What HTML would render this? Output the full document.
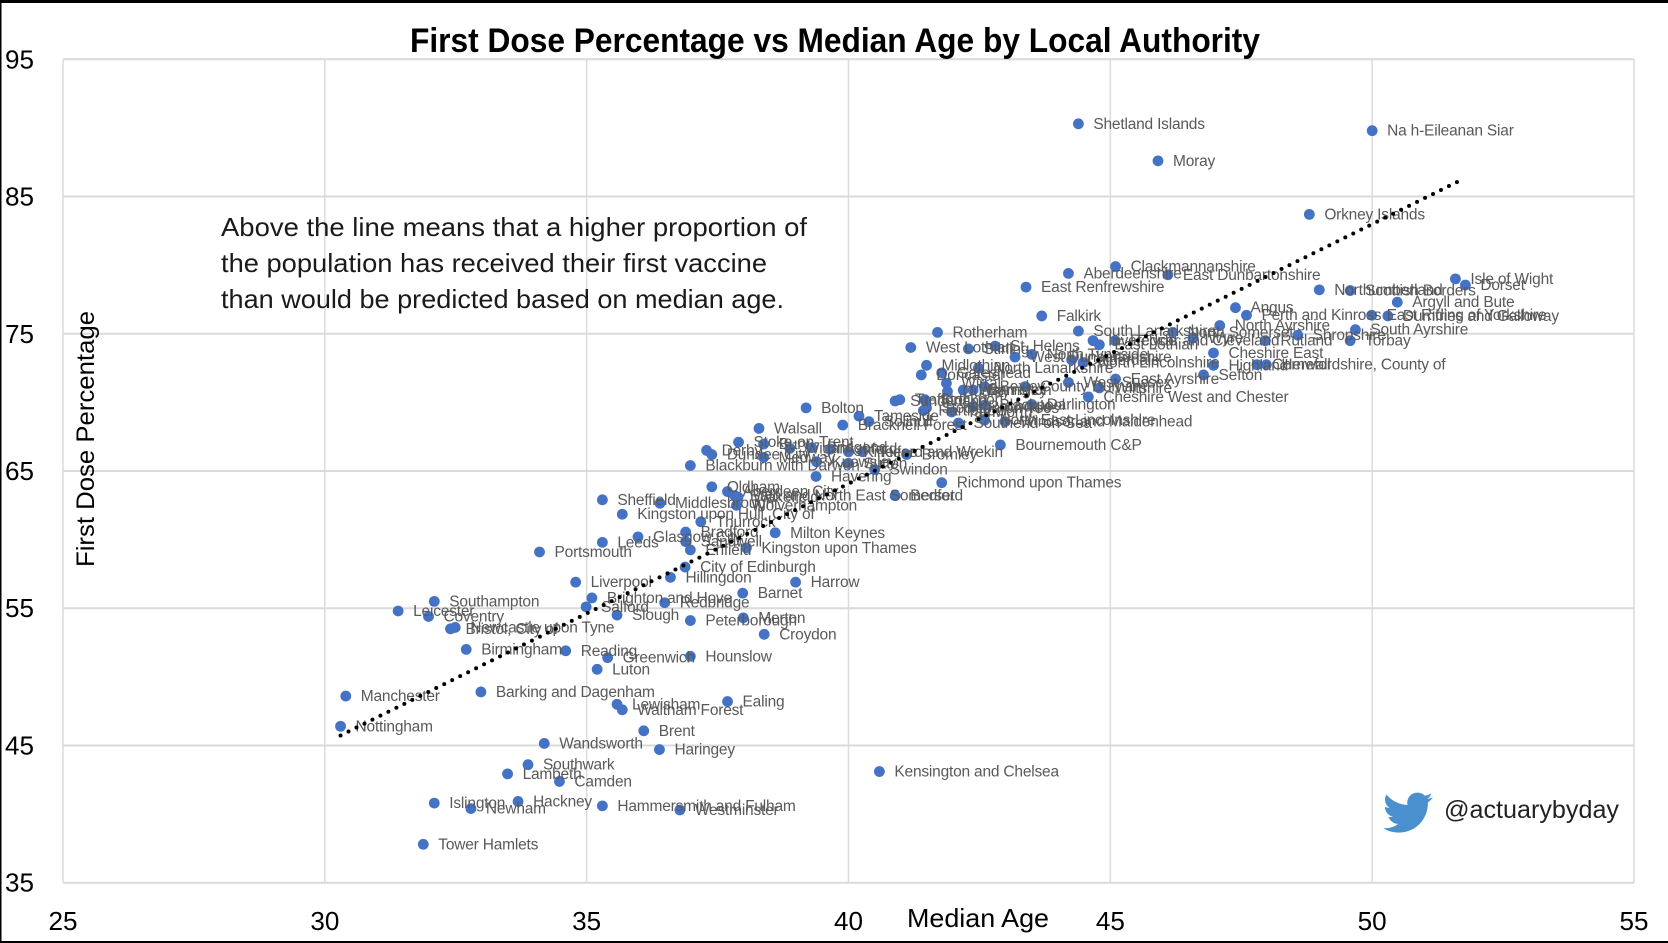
<!DOCTYPE html>
<html lang="en">
<head>
<meta charset="utf-8">
<title>First Dose Percentage vs Median Age by Local Authority</title>
<style>
  html, body { margin: 0; padding: 0; background: #fff; }
  body { width: 1668px; height: 943px; overflow: hidden; }
  svg { display: block; font-family: "Liberation Sans", sans-serif; }
  #plot-layer { filter: blur(0.35px); }
</style>
</head>
<body>
<svg id="chart" xmlns="http://www.w3.org/2000/svg" width="1668" height="943" viewBox="0 0 1668 943">
  <rect x="0" y="0" width="1668" height="943" fill="#ffffff"/>
  <g id="grid-layer"></g>
  <g id="plot-layer">
    <g id="points-layer"></g>
    <g id="labels-layer"></g>
    <g id="trend-layer"></g>
  </g>
  <g id="ticks-layer"></g>

  <text x="410" y="52" font-size="34" font-weight="700" fill="#000" textLength="850" lengthAdjust="spacingAndGlyphs">First Dose Percentage vs Median Age by Local Authority</text>
  <text x="221" y="236" font-size="26" fill="#1a1a1a" textLength="586" lengthAdjust="spacingAndGlyphs">Above the line means that a higher proportion of</text>
  <text x="221" y="272" font-size="26" fill="#1a1a1a" textLength="546" lengthAdjust="spacingAndGlyphs">the population has received their first vaccine</text>
  <text x="221" y="308" font-size="26" fill="#1a1a1a" textLength="563" lengthAdjust="spacingAndGlyphs">than would be predicted based on median age.</text>
  <text x="907" y="927" font-size="26" fill="#000" textLength="142" lengthAdjust="spacingAndGlyphs">Median Age</text>
  <text transform="translate(94 567) rotate(-90)" font-size="25" fill="#000" textLength="256" lengthAdjust="spacingAndGlyphs">First Dose Percentage</text>

  <path fill="#4a90ce" transform="translate(1383 788) scale(2.08 2.05)" d="M23.953 4.57a10 10 0 01-2.825.775 4.958 4.958 0 002.163-2.723c-.951.555-2.005.959-3.127 1.184a4.92 4.92 0 00-8.384 4.482C7.69 8.095 4.067 6.13 1.64 3.162a4.822 4.822 0 00-.666 2.475c0 1.71.87 3.213 2.188 4.096a4.904 4.904 0 01-2.228-.616v.06a4.923 4.923 0 003.946 4.827 4.996 4.996 0 01-2.212.085 4.936 4.936 0 004.604 3.417 9.867 9.867 0 01-6.102 2.105c-.39 0-.779-.023-1.17-.067a13.995 13.995 0 007.557 2.209c9.053 0 13.998-7.496 13.998-13.985 0-.21 0-.42-.015-.63A9.935 9.935 0 0024 4.59z"/>
  <text x="1444" y="818" font-size="25" fill="#222" textLength="175" lengthAdjust="spacingAndGlyphs">@actuarybyday</text>

  <rect x="0" y="0" width="1668" height="3" fill="#000"/>
  <rect x="0" y="0" width="1.5" height="943" fill="#000"/>
  <rect x="0" y="941" width="1668" height="2" fill="#000"/>
</svg>

<script>
const xTicks = [25, 30, 35, 40, 45, 50, 55];
const yTicks = [35, 45, 55, 65, 75, 85, 95];

const places = [
  "Shetland Islands","Na h-Eileanan Siar","Moray","Orkney Islands","Clackmannanshire","Aberdeenshire","East Dunbartonshire","East Renfrewshire",
  "Northumberland","Scottish Borders","Isle of Wight","Dorset","Argyll and Bute","Angus","Perth and Kinross","East Riding of Yorkshire",
  "Dumfries and Galloway","Falkirk","North Ayrshire","South Ayrshire","Shropshire","Torbay","Rutland","South Lanarkshire",
  "North Somerset","Wyre","Inverclyde","East Lothian","Redcar and Cleveland","Cheshire East","Highland","Sefton",
  "Cornwall","Herefordshire, County of","Rotherham","West Lothian","Stirling","St. Helens","West Dunbartonshire","North Tyneside",
  "Midlothian","Doncaster","Gateshead","North Lanarkshire","Wirral","Dudley","Warrington","Barnsley",
  "Bexley","County Durham","Calderdale","North Lincolnshire","West Sussex","East Ayrshire","Wiltshire","Cheshire West and Chester",
  "Sunderland","Trafford","Stockport","Hartlepool","Stockton-on-Tees","Tamworth","Rochdale","Blackpool",
  "Darlington","Windsor and Maidenhead","Southend-on-Sea","North East Lincolnshire","Bolton","Bracknell Forest","Tameside","Solihull",
  "Bournemouth C&P","Bromley","Telford and Wrekin","Kirklees","Walsall","Stoke-on-Trent","Derby","Dundee City",
  "Bury","Medway","Blackburn with Darwen","Wigan","Bridgend","Ashford","Knowsley","Sutton",
  "Swindon","Havering","Richmond upon Thames","Bedford","Oldham","Aberdeen City","Bath and North East Somerset","Wakefield",
  "Wolverhampton","Middlesbrough","Sheffield","Kingston upon Hull, City of","Thurrock","Milton Keynes","Bradford","Sandwell",
  "Enfield","Glasgow City","Leeds","Kingston upon Thames","City of Edinburgh","Hillingdon","Harrow","Barnet",
  "Portsmouth","Liverpool","Brighton and Hove","Redbridge","Salford","Slough","Peterborough","Merton",
  "Croydon","Southampton","Leicester","Coventry","Bristol, City of","Newcastle upon Tyne","Birmingham","Reading",
  "Greenwich","Hounslow","Luton","Manchester","Barking and Dagenham","Lewisham","Waltham Forest","Ealing",
  "Nottingham","Brent","Wandsworth","Haringey","Southwark","Lambeth","Camden","Islington",
  "Newham","Hackney","Hammersmith and Fulham","Westminster","Tower Hamlets","Kensington and Chelsea"
];

const medianAge = [
  44.39,50.0,45.91,48.8,45.1,44.2,46.1,43.39,
  48.99,49.58,51.59,51.78,50.48,47.39,47.6,49.99,
  50.3,43.69,47.09,49.68,48.58,49.58,47.96,44.39,
  46.19,46.58,44.67,44.79,45.09,46.97,46.97,46.78,
  47.8,47.98,41.7,41.19,42.29,42.8,43.18,43.5,
  41.49,41.39,41.78,42.48,41.87,41.89,42.19,42.38,
  42.6,43.37,44.26,44.48,44.2,45.1,44.79,44.58,
  40.89,40.98,41.46,41.43,41.49,41.97,42.38,42.6,
  43.5,42.99,42.1,42.6,39.19,39.89,40.2,40.39,
  42.9,41.11,40.27,40.0,38.29,37.9,37.29,37.39,
  38.38,38.38,36.98,38.88,39.3,39.65,39.39,40.0,
  40.5,39.38,41.78,40.89,37.39,37.69,37.83,37.89,
  37.86,36.4,35.3,35.68,37.18,38.6,36.89,36.89,
  36.98,35.98,35.3,38.05,36.88,36.6,38.99,37.98,
  34.1,34.79,35.1,36.49,34.99,35.58,36.98,37.99,
  38.39,32.09,31.4,31.98,32.4,32.49,32.7,34.6,
  35.4,36.98,35.2,30.4,32.98,35.58,35.68,37.69,
  30.3,36.09,34.19,36.39,33.88,33.49,34.48,32.09,
  32.79,33.69,35.3,36.78,31.88,40.59
];

const firstDose = [
  90.3,89.8,87.6,83.7,79.9,79.4,79.3,78.4,
  78.2,78.15,79.0,78.55,77.3,76.9,76.35,76.35,
  76.3,76.3,75.6,75.3,74.9,74.5,74.5,75.2,
  75.1,74.7,74.5,74.2,74.5,73.6,72.7,72.0,
  72.75,72.75,75.1,74.0,73.9,74.1,73.3,73.5,
  72.7,72.0,72.15,72.5,71.4,70.8,70.9,70.9,
  71.15,71.15,73.1,72.9,71.45,71.7,71.05,70.4,
  70.1,70.2,70.2,69.4,69.6,69.3,69.7,69.8,
  69.85,68.6,68.5,68.7,69.6,68.35,69.0,68.6,
  66.9,66.2,66.4,66.4,68.1,67.1,66.5,66.2,
  66.96,66.0,65.4,66.65,66.7,66.6,65.67,65.55,
  65.1,64.6,64.15,63.2,63.85,63.5,63.2,63.1,
  62.5,62.65,62.9,61.85,61.3,60.5,60.55,59.85,
  59.25,60.2,59.8,59.4,58.0,57.25,56.9,56.1,
  59.1,56.9,55.75,55.4,55.1,54.5,54.1,54.3,
  53.1,55.5,54.8,54.4,53.5,53.6,52.0,51.9,
  51.4,51.5,50.55,48.6,48.9,48.0,47.6,48.2,
  46.4,46.07,45.15,44.7,43.6,42.93,42.38,40.8,
  40.4,40.92,40.6,40.3,37.8,43.1
];

const trendAge = [30.3, 51.66];
const trendDose = [45.73, 86.13];

const SVG_NS = "http://www.w3.org/2000/svg";
const plotLeft = 63, plotRight = 1634, plotTop = 59.3, plotBottom = 882.7;
const xMin = 25, xMax = 55, yMin = 35, yMax = 95;

function xScale(v) { return plotLeft + (v - xMin) / (xMax - xMin) * (plotRight - plotLeft); }
function yScale(v) { return plotBottom - (v - yMin) / (yMax - yMin) * (plotBottom - plotTop); }
function slug(s) { return s.toLowerCase().replace(/[^a-z0-9]+/g, "-").replace(/^-|-$/g, ""); }

const gridLayer = document.getElementById("grid-layer");
const ticksLayer = document.getElementById("ticks-layer");
const pointsLayer = document.getElementById("points-layer");
const labelsLayer = document.getElementById("labels-layer");
const trendLayer = document.getElementById("trend-layer");

xTicks.forEach(function (t) {
  const px = xScale(t);
  const line = document.createElementNS(SVG_NS, "line");
  line.setAttribute("x1", px);
  line.setAttribute("x2", px);
  line.setAttribute("y1", plotTop);
  line.setAttribute("y2", plotBottom);
  line.setAttribute("stroke", "#dcdcdc");
  line.setAttribute("stroke-width", "1.5");
  
  
  gridLayer.appendChild(line);

  const label = document.createElementNS(SVG_NS, "text");
  label.setAttribute("x", px);
  label.setAttribute("y", 930);
  label.setAttribute("text-anchor", "middle");
  label.setAttribute("font-size", "26");
  label.setAttribute("textLength", "29");
  label.setAttribute("lengthAdjust", "spacingAndGlyphs");
  label.setAttribute("fill", "#000");
  label.textContent = t;
  
  
  ticksLayer.appendChild(label);
});

yTicks.forEach(function (t) {
  const py = yScale(t);
  const line = document.createElementNS(SVG_NS, "line");
  line.setAttribute("x1", plotLeft);
  line.setAttribute("x2", plotRight);
  line.setAttribute("y1", py);
  line.setAttribute("y2", py);
  line.setAttribute("stroke", "#dadada");
  line.setAttribute("stroke-width", "2");
  
  
  gridLayer.appendChild(line);

  const label = document.createElementNS(SVG_NS, "text");
  label.setAttribute("x", 5);
  label.setAttribute("y", py + 9);
  label.setAttribute("font-size", "26");
  label.setAttribute("textLength", "29");
  label.setAttribute("lengthAdjust", "spacingAndGlyphs");
  label.setAttribute("fill", "#000");
  label.textContent = t;
  
  
  ticksLayer.appendChild(label);
});

places.forEach(function (name, i) {
  const px = xScale(medianAge[i]);
  const py = yScale(firstDose[i]);

  const dot = document.createElementNS(SVG_NS, "circle");
  dot.setAttribute("cx", px);
  dot.setAttribute("cy", py);
  dot.setAttribute("r", "5.4");
  dot.setAttribute("fill", "#4472c4");
  
  
  pointsLayer.appendChild(dot);

  const label = document.createElementNS(SVG_NS, "text");
  label.setAttribute("x", px + 15);
  label.setAttribute("y", py + 5);
  label.setAttribute("font-size", "15.5");
  label.setAttribute("letter-spacing", "-0.2");
  label.setAttribute("fill", "#595959");
  label.textContent = name;
  
  
  labelsLayer.appendChild(label);
});

const trend = document.createElementNS(SVG_NS, "line");
trend.setAttribute("x1", xScale(trendAge[0]));
trend.setAttribute("y1", yScale(trendDose[0]));
trend.setAttribute("x2", xScale(trendAge[1]));
trend.setAttribute("y2", yScale(trendDose[1]));
trend.setAttribute("stroke", "#000");
trend.setAttribute("stroke-width", "4");
trend.setAttribute("stroke-linecap", "round");
trend.setAttribute("stroke-dasharray", "0 8.9");


trendLayer.appendChild(trend);
</script>
</body>
</html>
